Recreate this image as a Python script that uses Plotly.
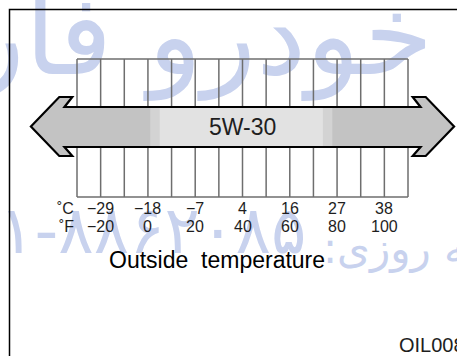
import plotly.graph_objects as go

# temperature scale (deg F grid, one cell = 10 F)
grid_f = list(range(-30, 111, 10))
tick_f = [-20, 0, 20, 40, 60, 80, 100]
tick_f_labels = ["\u221220", "0", "20", "40", "60", "80", "100"]
tick_c_labels = ["\u221229", "\u221218", "\u22127", "4", "16", "27", "38"]

# oil grade band on the arrow (deg F)
grade = "5W-30"
mid_band = [1, 78]
light_band = [5, 74]

# watermark texts
wm_top = "راد خودرو فارس"
wm_phone = "۱-۸۸۶۲۰۸۵"
wm_label = ":شبانه روزی"

W, H = 457, 356
GRID_PX = (77, 408)          # pixel span of the grid
F_LO, F_HI = grid_f[0], grid_f[-1]
k = (F_HI - F_LO) / (GRID_PX[1] - GRID_PX[0])
x_range = [F_LO - GRID_PX[0] * k, F_HI + (W - GRID_PX[1]) * k]

FONT = "Liberation Sans, Arial, Helvetica, sans-serif"
WM_COL = "#c8d2ee"

fig = go.Figure()

# watermark (under everything)
fig.add_trace(go.Scatter(x=[30], y=[46], mode="text", text=[wm_top],
                         textfont=dict(size=112, color=WM_COL, family="DejaVu Sans"),
                         hoverinfo="skip", showlegend=False))
fig.add_trace(go.Scatter(x=[-63], y=[236], mode="text", text=[wm_phone], textposition="middle right",
                         textfont=dict(size=66, color=WM_COL, family="DejaVu Sans"),
                         hoverinfo="skip", showlegend=False))
fig.add_trace(go.Scatter(x=[74], y=[252], mode="text", text=[wm_label], textposition="middle right",
                         textfont=dict(size=42, color=WM_COL, family="DejaVu Sans"),
                         hoverinfo="skip", showlegend=False))

shapes = []
# frame
shapes.append(dict(type="rect", xref="paper", yref="y", x0=9.5 / W, x1=1.02, y0=9.5, y1=400,
                   line=dict(color="black", width=1.5), fillcolor="rgba(0,0,0,0)"))

GRID_COL = "#6e6e6e"
TOP0, TOP1, BOT0, BOT1 = 59, 107, 147, 197
for f in grid_f:
    shapes.append(dict(type="line", x0=f, x1=f, y0=TOP0, y1=TOP1, line=dict(color=GRID_COL, width=1.5)))
    shapes.append(dict(type="line", x0=f, x1=f, y0=BOT0, y1=BOT1, line=dict(color=GRID_COL, width=1.5)))
shapes.append(dict(type="line", x0=F_LO, x1=F_HI, y0=TOP0, y1=TOP0, line=dict(color=GRID_COL, width=1.5)))
shapes.append(dict(type="line", x0=F_LO, x1=F_HI, y0=BOT1, y1=BOT1, line=dict(color=GRID_COL, width=1.5)))

# arrow
tip, barb_o, barb_i, notch = 19.5, 7.5, 2.0, 5.3
yb0, ys0, yc, ys1, yb1 = 97, 107, 126.5, 147, 156
L, R = F_LO, F_HI
pts = [(L - tip, yc), (L - barb_o, yb0), (L - barb_i, yb0), (L - notch, ys0),
       (R + notch, ys0), (R + barb_i, yb0), (R + barb_o, yb0), (R + tip, yc),
       (R + barb_o, yb1), (R + barb_i, yb1), (R + notch, ys1),
       (L - notch, ys1), (L - barb_i, yb1), (L - barb_o, yb1)]
path = "M " + " L ".join(f"{x:.2f},{y}" for x, y in pts) + " Z"
shapes.append(dict(type="path", path=path, fillcolor="#c3c3c3", line=dict(width=0)))
shapes.append(dict(type="rect", x0=mid_band[0], x1=mid_band[1], y0=ys0, y1=ys1,
                   fillcolor="#d3d3d3", line=dict(width=0)))
shapes.append(dict(type="rect", x0=light_band[0], x1=light_band[1], y0=ys0, y1=ys1,
                   fillcolor="#e2e2e2", line=dict(width=0)))
shapes.append(dict(type="path", path=path, fillcolor="rgba(0,0,0,0)",
                   line=dict(color="black", width=2.2)))

ann = []
TXT = "#1e1e1e"
ann.append(dict(x=(L + R) / 2, y=127, text=grade, showarrow=False,
                font=dict(size=23, color=TXT, family=FONT)))
for f, cl, fl in zip(tick_f, tick_c_labels, tick_f_labels):
    ann.append(dict(x=f, y=208, text=cl, showarrow=False, font=dict(size=16, color=TXT, family=FONT)))
    ann.append(dict(x=f, y=226, text=fl, showarrow=False, font=dict(size=16, color=TXT, family=FONT)))
ann.append(dict(x=-30.3, y=208, text="\u02daC", xanchor="right", showarrow=False,
                font=dict(size=16, color=TXT, family=FONT)))
ann.append(dict(x=-30.3, y=226, text="\u02daF", xanchor="right", showarrow=False,
                font=dict(size=16, color=TXT, family=FONT)))
ann.append(dict(x=29.2, y=260, text="Outside\u00a0 temperature", showarrow=False,
                font=dict(size=23, color="black", family=FONT)))
ann.append(dict(x=397 / W, xref="paper", y=345, text="OIL008", xanchor="left", showarrow=False,
                font=dict(size=20, color=TXT, family=FONT)))

fig.update_layout(
    width=W, height=H, margin=dict(l=0, r=0, t=0, b=0),
    paper_bgcolor="white", plot_bgcolor="white",
    xaxis=dict(range=x_range, visible=False, fixedrange=True),
    yaxis=dict(range=[H, 0], visible=False, fixedrange=True),
    shapes=shapes, annotations=ann, showlegend=False,
)
fig.write_html("out.html", config={"displayModeBar": False},
               post_script="document.body.style.margin='0';document.body.style.overflow='hidden';")
